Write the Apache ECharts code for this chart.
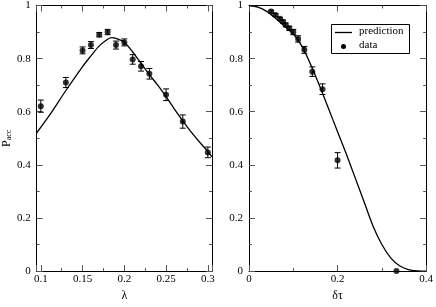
<!DOCTYPE html>
<html><head><meta charset="utf-8">
<script src="https://cdn.jsdelivr.net/npm/echarts@6/dist/echarts.min.js"></script>
<style>html,body{margin:0;padding:0;background:#fff}#c{width:436px;height:307px}</style>
</head><body><div id="c"></div>
<script>
// Left panel: acceptance vs lambda
const lamX   = [0.1, 0.13, 0.15, 0.16, 0.17, 0.18, 0.19, 0.2, 0.21, 0.22, 0.23, 0.25, 0.27, 0.3];
const lamY   = [0.621, 0.71, 0.831, 0.851, 0.89, 0.9, 0.851, 0.861, 0.797, 0.771, 0.743, 0.664, 0.563, 0.447];
const lamErr = [0.023, 0.019, 0.013, 0.013, 0.008, 0.01, 0.015, 0.013, 0.018, 0.018, 0.02, 0.022, 0.025, 0.02];
const lamCurveX = [0.095, 0.11, 0.13, 0.15, 0.16, 0.17, 0.18, 0.185, 0.19, 0.2, 0.21, 0.22, 0.23, 0.24, 0.25, 0.26, 0.27, 0.28, 0.29, 0.3, 0.305];
const lamCurveY = [0.52, 0.585, 0.68, 0.77, 0.81, 0.848, 0.873, 0.879, 0.876, 0.862, 0.825, 0.782, 0.74, 0.7, 0.657, 0.61, 0.566, 0.524, 0.486, 0.45, 0.43];
// Right panel: acceptance vs delta tau
const dtX   = [0.05, 0.06, 0.07, 0.077, 0.083, 0.091, 0.1, 0.111, 0.125, 0.143, 0.166, 0.2, 0.333];
const dtY   = [0.977, 0.964, 0.95, 0.939, 0.927, 0.914, 0.9, 0.874, 0.833, 0.751, 0.685, 0.417, 0];
const dtErr = [0.005, 0.005, 0.005, 0.006, 0.007, 0.008, 0.01, 0.012, 0.013, 0.018, 0.02, 0.029, 0];
const dtCurveX = [0, 0.02, 0.04, 0.06, 0.08, 0.1, 0.12, 0.14, 0.16, 0.18, 0.2, 0.22, 0.24, 0.26, 0.28, 0.3, 0.32, 0.34, 0.36, 0.38, 0.4];
const dtCurveY = [1, 0.994, 0.978, 0.952, 0.922, 0.893, 0.845, 0.775, 0.695, 0.61, 0.525, 0.44, 0.35, 0.26, 0.17, 0.1, 0.05, 0.02, 0.006, 0.001, 0];
const legendNames = ['prediction', 'data'];

const FONT = '"Liberation Serif", "DejaVu Serif", serif';
const pairs = (xs, ys) => xs.map((x, i) => [x, ys[i]]);
const errData = (xs, ys, es) => xs.map((x, i) => [x, ys[i] - es[i], ys[i] + es[i]]);

function xAx(grid, min, max, interval, pos, labels, extra) {
  return Object.assign({
    type: 'value', gridIndex: grid, min, max, interval, position: pos,
    axisLine: { show: true, onZero: false, lineStyle: { color: '#000', width: 1 } },
    axisTick: { show: true, inside: true, length: 6, lineStyle: { color: '#555' } },
    minorTick: { show: true, splitNumber: 2, length: 3, lineStyle: { color: '#555' } },
    splitLine: { show: false },
    axisLabel: { show: labels, color: '#000', fontFamily: FONT, fontSize: 11, margin: 3 }
  }, extra || {});
}
function yAx(grid, pos, labels, extra) {
  return Object.assign({
    type: 'value', gridIndex: grid, min: 0, max: 1, interval: 0.2, position: pos,
    axisLine: { show: true, onZero: false, lineStyle: { color: '#000', width: 1 } },
    axisTick: { show: true, inside: true, length: 6, lineStyle: { color: '#555' } },
    minorTick: { show: true, splitNumber: 2, length: 3, lineStyle: { color: '#555' } },
    splitLine: { show: false },
    axisLabel: { show: labels, color: '#000', fontFamily: FONT, fontSize: 11, margin: 6 }
  }, extra || {});
}

function errSeries(xi, yi, data) {
  return {
    type: 'custom', xAxisIndex: xi, yAxisIndex: yi, data, z: 3,
    renderItem(params, api) {
      const x = api.value(0), lo = api.value(1), hi = api.value(2);
      if (hi - lo <= 0) return null;
      const p1 = api.coord([x, lo]), p2 = api.coord([x, hi]);
      const w = 3;
      const st = { stroke: '#000', lineWidth: 1 };
      return { type: 'group', children: [
        { type: 'line', shape: { x1: p1[0], y1: p1[1], x2: p2[0], y2: p2[1] }, style: st },
        { type: 'line', shape: { x1: p1[0] - w, y1: p1[1], x2: p1[0] + w, y2: p1[1] }, style: st },
        { type: 'line', shape: { x1: p2[0] - w, y1: p2[1], x2: p2[0] + w, y2: p2[1] }, style: st }
      ]};
    }
  };
}

const chart = echarts.init(document.getElementById('c'), null, { renderer: 'canvas' });
chart.setOption({
  animation: false,
  backgroundColor: '#fff',
  grid: [
    { left: 34, top: 5, width: 178, height: 277 },
    { left: 249, top: 5, width: 179, height: 277 }
  ],
  xAxis: [
    xAx(0, 0.095, 0.305, undefined, 'bottom', true, {
      splitNumber: 4,
      axisLabel: { show: true, showMinLabel: false, showMaxLabel: false, color: '#000', fontFamily: FONT, fontSize: 11, margin: 3 },
      name: 'λ', nameLocation: 'middle', nameGap: 15,
      nameTextStyle: { color: '#000', fontFamily: FONT, fontSize: 12 }
    }),
    xAx(0, 0.095, 0.305, undefined, 'top', false, { splitNumber: 4 }),
    xAx(1, 0, 0.4, 0.2, 'bottom', true, {
      name: 'δτ', nameLocation: 'middle', nameGap: 15,
      nameTextStyle: { color: '#000', fontFamily: FONT, fontSize: 12 }
    }),
    xAx(1, 0, 0.4, 0.2, 'top', false)
  ],
  yAxis: [
    yAx(0, 'left', true, {
      name: '{p|P}{s|acc}', nameLocation: 'middle', nameGap: 23, nameRotate: 90,
      nameTextStyle: { color: '#000', fontFamily: FONT, fontSize: 12,
        rich: { p: { fontFamily: FONT, fontSize: 12, color: '#000' },
                s: { fontFamily: FONT, fontSize: 8, color: '#000', verticalAlign: 'bottom', padding: [4, 0, 0, 0] } } }
    }),
    yAx(0, 'right', false),
    yAx(1, 'left', true),
    yAx(1, 'right', false)
  ],
  series: [
    { name: legendNames[0], type: 'line', xAxisIndex: 0, yAxisIndex: 0, data: pairs(lamCurveX, lamCurveY),
      smooth: 0.3, symbol: 'none', lineStyle: { color: '#000', width: 1.3 }, z: 2 },
    errSeries(0, 0, errData(lamX, lamY, lamErr)),
    { name: legendNames[1], type: 'scatter', xAxisIndex: 0, yAxisIndex: 0, data: pairs(lamX, lamY),
      symbol: 'circle', symbolSize: 6, itemStyle: { color: '#000' }, z: 4 },
    { name: legendNames[0], type: 'line', xAxisIndex: 2, yAxisIndex: 2, data: pairs(dtCurveX, dtCurveY),
      smooth: 0.3, symbol: 'none', lineStyle: { color: '#000', width: 1.3 }, z: 2 },
    errSeries(2, 2, errData(dtX, dtY, dtErr)),
    { name: legendNames[1], type: 'scatter', xAxisIndex: 2, yAxisIndex: 2, data: pairs(dtX, dtY),
      symbol: 'circle', symbolSize: 6, itemStyle: { color: '#000' }, z: 4 }
  ],
  graphic: [
    { type: 'rect', left: 331, top: 24, shape: { width: 78, height: 29 }, style: { fill: '#fff', stroke: '#000', lineWidth: 1 }, z: 10 },
    { type: 'line', shape: { x1: 335, y1: 32.5, x2: 352, y2: 32.5 }, style: { stroke: '#000', lineWidth: 1.3 }, z: 11 },
    { type: 'circle', shape: { cx: 343.5, cy: 46.5, r: 2.5 }, style: { fill: '#000' }, z: 11 },
    { type: 'text', left: 359, top: 26, style: { text: legendNames[0], fill: '#000', font: '11px ' + FONT }, z: 11 },
    { type: 'text', left: 359, top: 40, style: { text: legendNames[1], fill: '#000', font: '11px ' + FONT }, z: 11 }
  ]
});
</script></body></html>
